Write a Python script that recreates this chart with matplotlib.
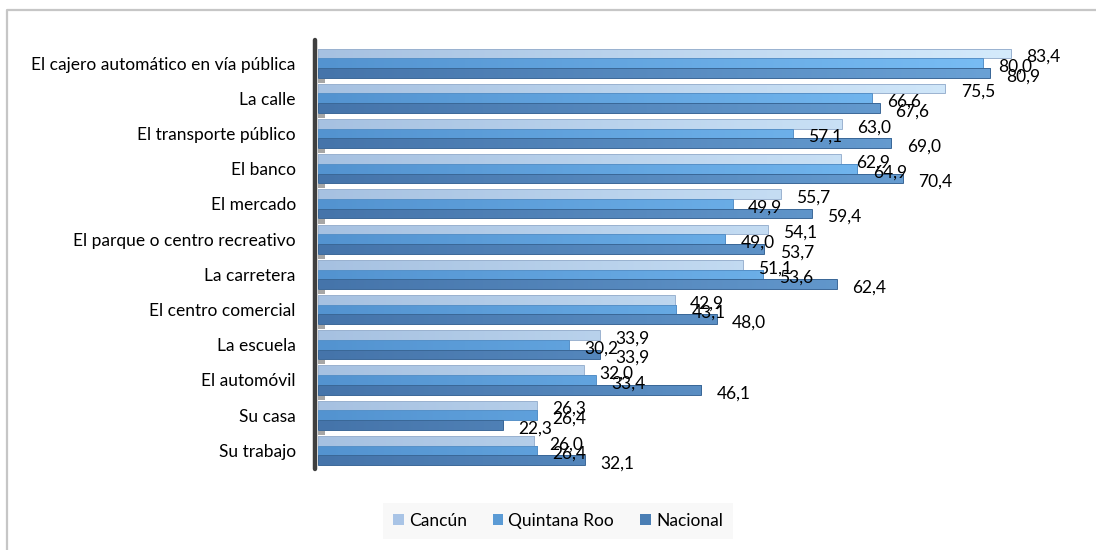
import matplotlib
matplotlib.use("Agg")
import matplotlib.pyplot as plt
import numpy as np
from matplotlib.colors import LinearSegmentedColormap
from matplotlib.patches import Patch
from matplotlib.lines import Line2D

categories = [
    "El cajero automático en vía pública",
    "La calle",
    "El transporte público",
    "El banco",
    "El mercado",
    "El parque o centro recreativo",
    "La carretera",
    "El centro comercial",
    "La escuela",
    "El automóvil",
    "Su casa",
    "Su trabajo",
]
series_names = ["Cancún", "Quintana Roo", "Nacional"]
cancun = [83.4, 75.5, 63.0, 62.9, 55.7, 54.1, 51.1, 42.9, 33.9, 32.0, 26.3, 26.0]
quintana_roo = [80.0, 66.6, 57.1, 64.9, 49.9, 49.0, 53.6, 43.1, 30.2, 33.4, 26.4, 26.4]
nacional = [80.9, 67.6, 69.0, 70.4, 59.4, 53.7, 62.4, 48.0, 33.9, 46.1, 22.3, 32.1]

plt.rcParams['font.family'] = ['Lato', 'DejaVu Sans']

W, H = 1096, 550
fig = plt.figure(figsize=(W / 100, H / 100), dpi=100)
fig.patch.set_facecolor('white')

# axes placement in pixels
x0, x1 = 318, 1066
y_top, y_bot = 42, 468
ax = fig.add_axes([x0 / W, 1 - y_bot / H, (x1 - x0) / W, (y_bot - y_top) / H])
XMAX = 90
YLIM = (11.5, -0.6)

grads = [
    ("#a6c1e1", "#d8eefe", "#9ab2d0"),
    ("#5393d0", "#7cc1f8", "#5590c8"),
    ("#4574aa", "#6ea6da", "#3a6797"),
]
legend_cols = ["#a9c4e6", "#5b9bd5", "#4a7eb4"]

data = [cancun, quintana_roo, nacional]
n = len(categories)
ypos = np.arange(n)
bh = 0.275
offsets = [-bh, 0, bh]

FS = 12.5
gradient = np.linspace(0, 1, 256).reshape(1, -1)
for s, vals in enumerate(data):
    c0, c1, ec = grads[s]
    cmap = LinearSegmentedColormap.from_list(f"g{s}", [c0, c1])
    bars = ax.barh(ypos + offsets[s], vals, height=bh, color=c0,
                   edgecolor='none', zorder=2)
    for b in bars:
        y0 = b.get_y()
        im = ax.imshow(gradient, extent=[0, XMAX, y0 + b.get_height(), y0],
                       aspect='auto', cmap=cmap, interpolation='bicubic', zorder=2.5)
        im.set_clip_path(b)
    ax.barh(ypos + offsets[s], vals, height=bh, facecolor='none',
            edgecolor=ec, linewidth=0.7, zorder=3)
    for yi, v in zip(ypos, vals):
        ax.annotate(f"{v:.1f}".replace('.', ','), xy=(v, yi + offsets[s]),
                    xytext=(11, -2.5), textcoords='offset points',
                    ha='left', va='center', fontsize=FS, color='black', zorder=5)

# floor shadows at group boundaries
ax.barh(ypos[:-1] + 0.5, [0.9] * (n - 1), height=0.12, color='#a6a6a6', zorder=1.5)

ax.set_xlim(0, XMAX)
ax.set_ylim(*YLIM)
ax.set_yticks(ypos)
ax.set_yticklabels(categories, fontsize=FS)
ax.tick_params(axis='y', length=0, pad=16)
ax.set_xticks([])
for sp in ['top', 'right', 'bottom', 'left']:
    ax.spines[sp].set_visible(False)
ax.patch.set_alpha(0)

# 3D-like axis wall
fig.add_artist(Line2D([315 / W, 315 / W], [1 - 40 / H, 1 - 469 / H],
                      color='#3f3f3f', linewidth=3.2, solid_capstyle='round'))

# chart border
fig.add_artist(Line2D([7 / W, 7 / W, 1.0], [0, 1 - 10 / H, 1 - 10 / H],
                      color='#c6c6c6', linewidth=1.6))

handles = [Patch(facecolor=c, edgecolor='none') for c in legend_cols]
leg = fig.legend(handles, series_names, loc='center', bbox_to_anchor=(558 / W, 1 - 521 / H),
                 ncol=3, frameon=True, fontsize=FS, handlelength=0.6, handleheight=0.6,
                 handletextpad=0.3, columnspacing=1.5, borderpad=0.6, fancybox=False)
leg.get_frame().set_facecolor('#f7f7f7')
leg.get_frame().set_edgecolor('none')

fig.savefig("out.png", dpi=100)
